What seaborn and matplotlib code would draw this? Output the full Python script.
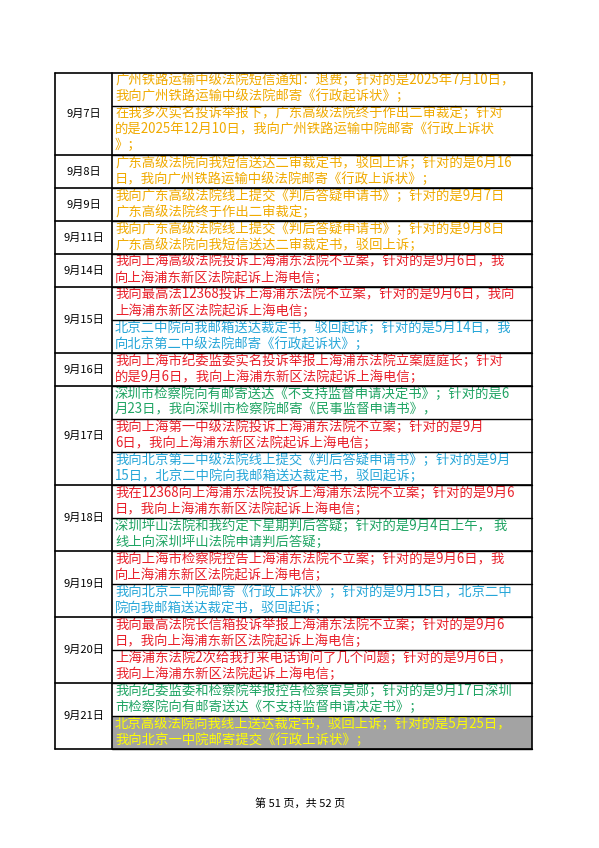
import matplotlib
matplotlib.use("Agg")
import matplotlib.pyplot as plt
from matplotlib.patches import Rectangle
import seaborn as sns

sns.set_theme(style="white")
plt.rcParams['font.family'] = ['Noto Sans CJK SC', 'DejaVu Sans']

ORANGE, RED, BLUE, GREEN, YEL = "#F0AA00", "#E8202A", "#26A6D8", "#1FA463", "#FFFF00"

dates = ["9月7日", "9月8日", "9月9日", "9月11日", "9月14日", "9月15日", "9月16日",
         "9月17日", "9月18日", "9月19日", "9月20日", "9月21日"]
entries = [
    [("广州铁路运输中级法院短信通知：退费；针对的是2025年7月10日，\n我向广州铁路运输中级法院邮寄《行政起诉状》；", ORANGE, None),
     ("在我多次实名投诉举报下，广东高级法院终于作出二审裁定；针对\n的是2025年12月10日，我向广州铁路运输中院邮寄《行政上诉状\n》；", ORANGE, None)],
    [("广东高级法院向我短信送达二审裁定书，驳回上诉；针对的是6月16\n日，我向广州铁路运输中级法院邮寄《行政上诉状》；", ORANGE, None)],
    [("我向广东高级法院线上提交《判后答疑申请书》；针对的是9月7日\n广东高级法院终于作出二审裁定；", ORANGE, None)],
    [("我向广东高级法院线上提交《判后答疑申请书》；针对的是9月8日\n广东高级法院向我短信送达二审裁定书，驳回上诉；", ORANGE, None)],
    [("我向上海高级法院投诉上海浦东法院不立案，针对的是9月6日，我\n向上海浦东新区法院起诉上海电信；", RED, None)],
    [("我向最高法12368投诉上海浦东法院不立案，针对的是9月6日，我向\n上海浦东新区法院起诉上海电信；", RED, None),
     ("北京二中院向我邮箱送达裁定书，驳回起诉；针对的是5月14日，我\n向北京第二中级法院邮寄《行政起诉状》；", BLUE, None)],
    [("我向上海市纪委监委实名投诉举报上海浦东法院立案庭庭长；针对\n的是9月6日，我向上海浦东新区法院起诉上海电信；", RED, None)],
    [("深圳市检察院向有邮寄送达《不支持监督申请决定书》；针对的是6\n月23日，我向深圳市检察院邮寄《民事监督申请书》，", GREEN, None),
     ("我向上海第一中级法院投诉上海浦东法院不立案；针对的是9月\n6日，我向上海浦东新区法院起诉上海电信；", RED, None),
     ("我向北京第二中级法院线上提交《判后答疑申请书》；针对的是9月\n15日，北京二中院向我邮箱送达裁定书，驳回起诉；", BLUE, None)],
    [("我在12368向上海浦东法院投诉上海浦东法院不立案；针对的是9月6\n日，我向上海浦东新区法院起诉上海电信；", RED, None),
     ("深圳坪山法院和我约定下星期判后答疑；针对的是9月4日上午， 我\n线上向深圳坪山法院申请判后答疑；", GREEN, None)],
    [("我向上海市检察院控告上海浦东法院不立案；针对的是9月6日，我\n向上海浦东新区法院起诉上海电信；", RED, None),
     ("我向北京二中院邮寄《行政上诉状》；针对的是9月15日，北京二中\n院向我邮箱送达裁定书，驳回起诉；", BLUE, None)],
    [("我向最高法院长信箱投诉举报上海浦东法院不立案；针对的是9月6\n日，我向上海浦东新区法院起诉上海电信；", RED, None),
     ("上海浦东法院2次给我打来电话询问了几个问题；针对的是9月6日，\n我向上海浦东新区法院起诉上海电信；", RED, None)],
    [("我向纪委监委和检察院举报控告检察官吴郧；针对的是9月17日深圳\n市检察院向有邮寄送达《不支持监督申请决定书》；", GREEN, None),
     ("北京高级法院向我线上送达裁定书，驳回上诉；针对的是5月25日，\n我向北京一中院邮寄提交《行政上诉状》；", YEL, "#A3A3A3")],
]

fig = plt.figure(figsize=(5.99, 8.48), dpi=100)
ax = fig.add_axes([0, 0, 1, 1])
ax.set_xlim(0, 599)
ax.set_ylim(848, 0)
ax.axis("off")

X0, X1, X2 = 55, 112, 532
LH, PAD = 16.3, 0.4
y = 73
for d, ents in zip(dates, entries):
    ytop = y
    for text, col, bg in ents:
        n = text.count("\n") + 1
        h = n * LH + PAD
        if bg:
            ax.add_patch(Rectangle((X1, y), X2 - X1, h, facecolor=bg, edgecolor="none", zorder=0))
        ax.text(X1 + 3, y + 0.5, text, color=col, fontsize=9.6, va="top", ha="left",
                linespacing=1.18, zorder=2)
        y += h
        ax.plot([X1, X2], [y, y], color="black", lw=1, zorder=3)
    ax.text((X0 + X1) / 2, (ytop + y) / 2, d, fontsize=8, ha="center", va="center", color="black")
    ax.plot([X0, X2], [y, y], color="black", lw=1.2, zorder=3)
ax.plot([X0, X2], [73, 73], color="black", lw=1.2)
for xx in (X0, X1, X2):
    ax.plot([xx, xx], [73, y], color="black", lw=1.2)

ax.text(300, 803, "第 51 页，共 52 页", fontsize=8, ha="center", va="center", color="black")
fig.savefig("out.png", dpi=100)
